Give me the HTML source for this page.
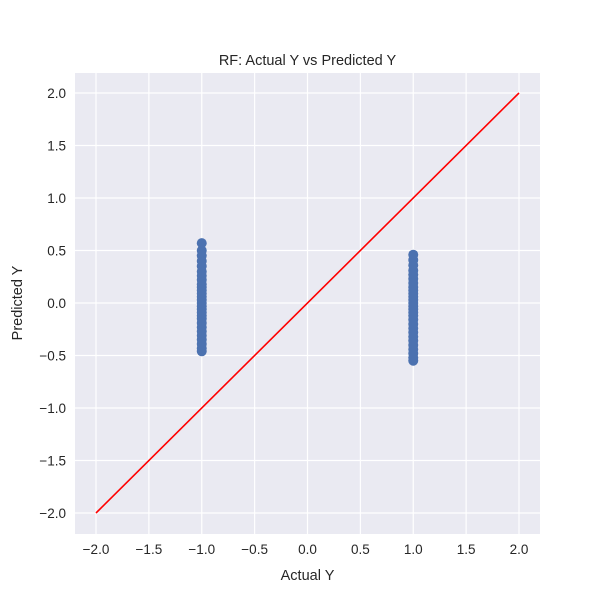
<!DOCTYPE html>
<html><head><meta charset="utf-8"><style>
body{margin:0;background:#fff;font-family:"Liberation Sans","DejaVu Sans",sans-serif}
svg text{font-family:"Liberation Sans","DejaVu Sans",sans-serif;fill:#262626}
</style></head><body>
<svg id="c" width="600" height="600"></svg>
<script>
const xTicks=[-2.0,-1.5,-1.0,-0.5,0.0,0.5,1.0,1.5,2.0];
const yTicks=[-2.0,-1.5,-1.0,-0.5,0.0,0.5,1.0,1.5,2.0];
const groupAx=[-1,-1,-1,-1,-1,-1,-1,-1,-1,-1,-1,-1,-1,-1,-1,-1,-1,-1,-1,-1,-1,-1,-1,-1,-1,-1,-1,-1];
const groupAy=[0.57,0.5,0.45,0.4,0.35,0.3,0.26,0.22,0.18,0.15,0.12,0.09,0.06,0.03,0.0,-0.03,-0.06,-0.09,-0.12,-0.15,-0.19,-0.23,-0.27,-0.31,-0.35,-0.39,-0.43,-0.46];
const groupBx=[1,1,1,1,1,1,1,1,1,1,1,1,1,1,1,1,1,1,1,1,1,1,1,1,1,1,1,1];
const groupBy=[0.46,0.41,0.36,0.31,0.27,0.23,0.19,0.15,0.12,0.09,0.06,0.03,0.0,-0.03,-0.06,-0.09,-0.12,-0.16,-0.2,-0.24,-0.28,-0.32,-0.36,-0.4,-0.44,-0.48,-0.52,-0.55];
const lineX=[-2,2], lineY=[-2,2];
const L=75,R=540,T=73,B=534;
const sx=v=>307.5+v*105.75, sy=v=>303-v*105;
const fmt=v=>(v<0?'\u2212':'')+Math.abs(v).toFixed(1);
const svg=document.getElementById('c');const NS='http://www.w3.org/2000/svg';
function mk(t,a,p){const e=document.createElementNS(NS,t);for(const k in a)e.setAttribute(k,a[k]);(p||svg).appendChild(e);return e;}
let bg=mk('rect',{x:L,y:T,width:R-L,height:B-T,fill:'#eaeaf2'});


xTicks.forEach(v=>{let g=mk('line',{x1:sx(v),x2:sx(v),y1:T,y2:B,stroke:'#fff','stroke-width':1.2});


let t=mk('text',{x:sx(v),y:554,'text-anchor':'middle','font-size':13.5});t.textContent=fmt(v);

});
yTicks.forEach(v=>{let g=mk('line',{x1:L,x2:R,y1:sy(v),y2:sy(v),stroke:'#fff','stroke-width':1.2});


let t=mk('text',{x:66,y:sy(v)+5,'text-anchor':'end','font-size':13.5});t.textContent=fmt(v);

});
[[groupAx,groupAy],[groupBx,groupBy]].forEach(([xs,ys])=>xs.forEach((x,i)=>{let c=mk('circle',{cx:sx(x),cy:sy(ys[i]),r:5,fill:'#4c72b0'});

}));
let ln=mk('line',{x1:sx(lineX[0]),y1:sy(lineY[0]),x2:sx(lineX[1]),y2:sy(lineY[1]),stroke:'#ff0000','stroke-width':1.6});


let ti=mk('text',{x:307.5,y:65,'text-anchor':'middle','font-size':14.5});ti.textContent='RF: Actual Y vs Predicted Y';


let xl=mk('text',{x:307.5,y:580,'text-anchor':'middle','font-size':14.5});xl.textContent='Actual Y';


let yl=mk('text',{x:22,y:303,'text-anchor':'middle','font-size':14.5,transform:'rotate(-90 22 303)'});yl.textContent='Predicted Y';


</script></body></html>
